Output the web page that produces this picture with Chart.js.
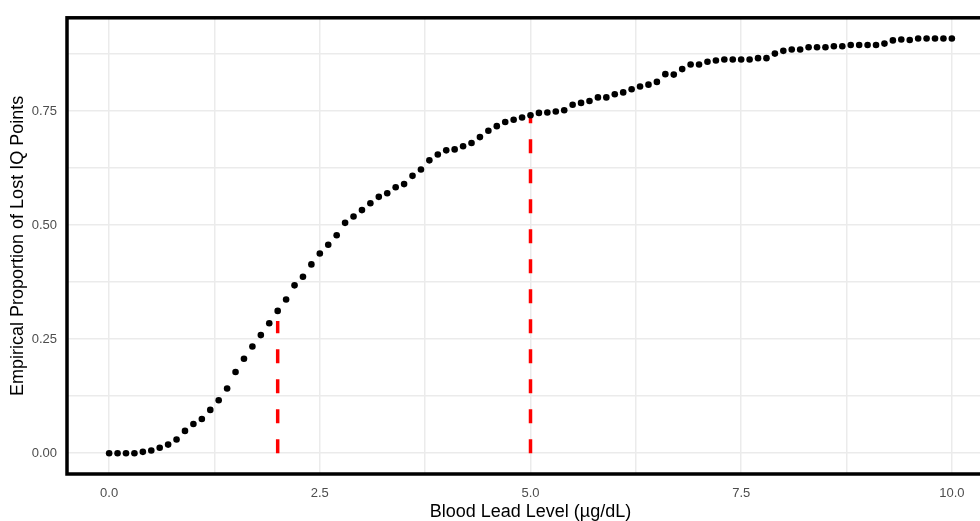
<!DOCTYPE html>
<html>
<head>
<meta charset="utf-8">
<script src="https://cdn.jsdelivr.net/npm/chart.js@4"></script>
<style>
  html, body { margin: 0; padding: 0; background: #fff; overflow: hidden; }
  #wrap { width: 1000px; height: 521px; }
</style>
</head>
<body>
<div id="wrap"><canvas id="myChart"></canvas></div>
<script>
const leadLevel = [
  0.0, 0.1, 0.2, 0.3, 0.4, 0.5, 0.6, 0.7, 0.8, 0.9,
  1.0, 1.1, 1.2, 1.3, 1.4, 1.5, 1.6, 1.7, 1.8, 1.9,
  2.0, 2.1, 2.2, 2.3, 2.4, 2.5, 2.6, 2.7, 2.8, 2.9,
  3.0, 3.1, 3.2, 3.3, 3.4, 3.5, 3.6, 3.7, 3.8, 3.9,
  4.0, 4.1, 4.2, 4.3, 4.4, 4.5, 4.6, 4.7, 4.8, 4.9,
  5.0, 5.1, 5.2, 5.3, 5.4, 5.5, 5.6, 5.7, 5.8, 5.9,
  6.0, 6.1, 6.2, 6.3, 6.4, 6.5, 6.6, 6.7, 6.8, 6.9,
  7.0, 7.1, 7.2, 7.3, 7.4, 7.5, 7.6, 7.7, 7.8, 7.9,
  8.0, 8.1, 8.2, 8.3, 8.4, 8.5, 8.6, 8.7, 8.8, 8.9,
  9.0, 9.1, 9.2, 9.3, 9.4, 9.5, 9.6, 9.7, 9.8, 9.9,
  10.0
];

const lostIQ = [
  0.000, 0.000, 0.000, 0.000, 0.003, 0.006, 0.012, 0.019, 0.030, 0.049,
  0.064, 0.075, 0.095, 0.116, 0.142, 0.178, 0.207, 0.234, 0.259, 0.285,
  0.312, 0.337, 0.368, 0.387, 0.414, 0.438, 0.457, 0.478, 0.505, 0.519,
  0.533, 0.548, 0.562, 0.570, 0.583, 0.590, 0.608, 0.622, 0.642, 0.655,
  0.664, 0.666, 0.673, 0.680, 0.693, 0.707, 0.717, 0.726, 0.731, 0.736,
  0.741, 0.746, 0.747, 0.749, 0.752, 0.764, 0.768, 0.772, 0.780, 0.780,
  0.787, 0.791, 0.798, 0.804, 0.808, 0.814, 0.831, 0.830, 0.842, 0.852,
  0.852, 0.858, 0.861, 0.863, 0.863, 0.863, 0.863, 0.866, 0.866, 0.876,
  0.882, 0.885, 0.885, 0.890, 0.890, 0.890, 0.892, 0.892, 0.895, 0.895,
  0.895, 0.895, 0.898, 0.905, 0.907, 0.906, 0.909, 0.909, 0.909, 0.909,
  0.909
];

// red dashed reference segments
const refX = [2, 5];
const refY = [0.29, 0.737];

const xTicks = [0, 1.25, 2.5, 3.75, 5, 6.25, 7.5, 8.75, 10];
const yTicks = [0, 0.125, 0.25, 0.375, 0.5, 0.625, 0.75, 0.875];
const xLabels = ['0.0', '', '2.5', '', '5.0', '', '7.5', '', '10.0'];
const yLabels = ['0.00', '', '0.25', '', '0.50', '', '0.75', ''];

const points = leadLevel.map((x, i) => ({ x: x, y: lostIQ[i] }));

const refSets = refX.map((x, i) => ({
  type: 'line',
  data: [{ x: x, y: 0 }, { x: x, y: refY[i] }],
  borderColor: '#ff0000',
  borderWidth: 3.5,
  borderDash: [14, 16],
  pointRadius: 0,
  fill: false,
  order: 2
}));

const panelBorder = {
  id: 'panelBorder',
  afterDatasetsDraw(chart) {
    const { ctx, chartArea: { left, right, top, bottom } } = chart;
    ctx.save();
    ctx.strokeStyle = '#000';
    ctx.lineWidth = 3.5;
    ctx.strokeRect(left, top, right - left, bottom - top);
    ctx.restore();
  }
};

const font = "'Liberation Sans', Arial, sans-serif";

const config = {
  type: 'scatter',
  data: {
    datasets: [{
      data: points,
      backgroundColor: '#000',
      borderWidth: 0,
      pointRadius: 3.3,
      order: 1
    }, ...refSets]
  },
  options: {
    responsive: true,
    maintainAspectRatio: false,
    animation: false,
    layout: { padding: { top: 13, right: 6, left: 0, bottom: 0 } },
    plugins: {
      legend: { display: false },
      tooltip: { enabled: false }
    },
    scales: {
      x: {
        type: 'linear',
        min: -0.5,
        max: 10.5,
        afterBuildTicks: s => { s.ticks = xTicks.map(v => ({ value: v })); },
        afterFit: s => { s.height = 47; },
        border: { display: false },
        grid: { color: '#ebebeb', lineWidth: 1.5, drawTicks: false },
        ticks: {
          color: '#4d4d4d',
          font: { family: font, size: 13 },
          padding: 12,
          maxRotation: 0,
          autoSkip: false,
          callback: (v, i) => xLabels[i]
        },
        title: {
          display: true,
          text: 'Blood Lead Level (\u00b5g/dL)',
          color: '#000',
          font: { family: font, size: 18, lineHeight: 1 },
          padding: { top: 0, bottom: 0 }
        }
      },
      y: {
        type: 'linear',
        min: -0.0455,
        max: 0.9545,
        afterBuildTicks: s => { s.ticks = yTicks.map(v => ({ value: v })); },
        afterFit: s => { s.width = 67; },
        border: { display: false },
        grid: { color: '#ebebeb', lineWidth: 1.5, drawTicks: false },
        ticks: {
          color: '#4d4d4d',
          font: { family: font, size: 13 },
          padding: 10,
          autoSkip: false,
          callback: (v, i) => yLabels[i]
        },
        title: {
          display: true,
          text: 'Empirical Proportion of Lost IQ Points',
          color: '#000',
          font: { family: font, size: 18 },
          padding: { top: 7, bottom: 0 }
        }
      }
    }
  },
  plugins: [panelBorder]
};

const myChart = new Chart(document.getElementById('myChart'), config);
</script>
</body>
</html>
